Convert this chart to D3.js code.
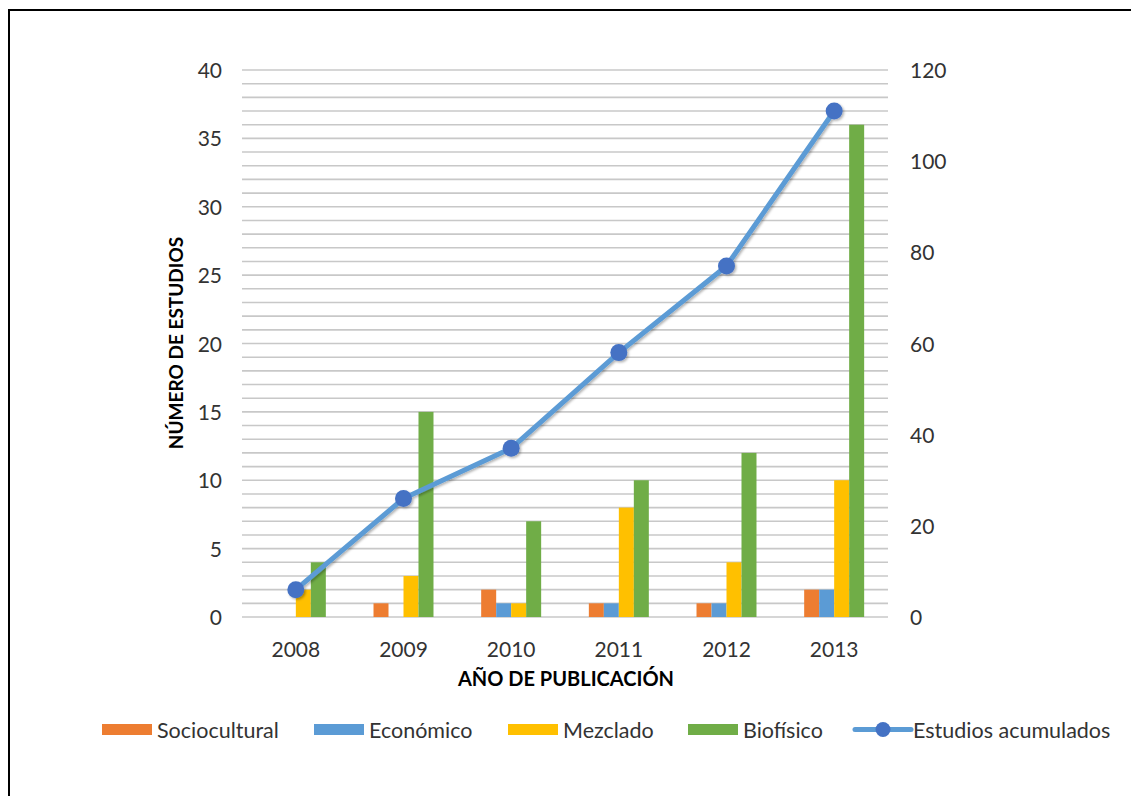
<!DOCTYPE html>
<html><head><meta charset="utf-8">
<script src="https://cdn.jsdelivr.net/npm/d3@7"></script>
<style>body{margin:0;background:#fff}svg{display:block}</style>
</head><body>
<svg id="c" width="1131" height="796"></svg>
<script>
const years = ["2008","2009","2010","2011","2012","2013"];
const seriesNames = ["Sociocultural","Económico","Mezclado","Biofísico"];
const sociocultural = [0,1,2,1,1,2];
const economico = [0,0,1,1,1,2];
const mezclado = [2,3,1,8,4,10];
const biofisico = [4,15,7,10,12,36];
const acumulados = [6,26,37,58,77,111];
const leftTicks = [0,5,10,15,20,25,30,35,40];
const rightTicks = [0,20,40,60,80,100,120];
const colors = ["#ED7D31","#5B9BD5","#FFC000","#70AD47"];
const lineColor = "#5B9BD5", markerColor = "#4472C4";

const seriesValues = [sociocultural, economico, mezclado, biofisico];
const svg = d3.select("#c");
const font = "Lato, 'Open Sans', sans-serif";

const defs = svg.append("defs");
const f = defs.append("filter").attr("id","sh").attr("x","-20%").attr("y","-20%").attr("width","140%").attr("height","140%");
f.append("feDropShadow").attr("dx",1.5).attr("dy",1.5).attr("stdDeviation",1.2).attr("flood-color","#000").attr("flood-opacity",0.3);

// frame
svg.append("rect").attr("x",9).attr("y",10).attr("width",1140).attr("height",800)
  .attr("fill","none").attr("stroke","#000").attr("stroke-width",2);

const x0 = d3.scaleBand().domain(years).range([242,888]).padding(0);
const x1 = d3.scaleBand().domain(seriesNames).range([0,x0.bandwidth()]).paddingInner(0).paddingOuter(1.59);
const yL = d3.scaleLinear().domain([0,40]).range([617,70]);
const yR = d3.scaleLinear().domain([0,120]).range([617,70]);

// gridlines every 1 unit
svg.append("g").selectAll("line").data(d3.range(0,41)).join("line")
  .attr("x1",242).attr("x2",888).attr("y1",d=>yL(d)).attr("y2",d=>yL(d))
  .attr("stroke","#c8c8c8").attr("stroke-width",1.6);

// left axis
const gl = svg.append("g").attr("transform","translate(222,0)")
  .call(d3.axisLeft(yL).tickValues(leftTicks).tickSize(0).tickPadding(0));
gl.select(".domain").remove();
gl.selectAll("text").attr("font-family",font).attr("font-size",21).attr("fill","#333").attr("dy","0.36em").attr("x",0);

const gr = svg.append("g").attr("transform","translate(910,0)")
  .call(d3.axisRight(yR).tickValues(rightTicks).tickSize(0).tickPadding(0));
gr.select(".domain").remove();
gr.selectAll("text").attr("font-family",font).attr("font-size",21).attr("fill","#333").attr("dy","0.36em").attr("x",0);

const gx = svg.append("g").attr("transform","translate(0,649)")
  .call(d3.axisBottom(x0).tickSize(0).tickPadding(0));
gx.select(".domain").remove();
gx.selectAll("text").attr("font-family",font).attr("font-size",21).attr("fill","#333").attr("dy","0.36em").attr("y",0);

// bars
const bars = svg.append("g");
years.forEach((yr,i)=>{
  seriesNames.forEach((s,j)=>{
    const v = seriesValues[j][i];
    if(v>0) bars.append("rect").attr("x",x0(yr)+x1(s)).attr("width",x1.bandwidth())
      .attr("y",yL(v)).attr("height",yL(0)-yL(v)).attr("fill",colors[j]);
  });
});

// line
const cx = d=>x0(d)+x0.bandwidth()/2;
const lg = svg.append("g").attr("filter","url(#sh)");
lg.append("path").datum(years).attr("fill","none").attr("stroke",lineColor).attr("stroke-width",5)
  .attr("stroke-linejoin","round")
  .attr("d",d3.line().x(d=>cx(d)).y((d,i)=>yR(acumulados[i])));
lg.selectAll("circle").data(years).join("circle").attr("cx",d=>cx(d)).attr("cy",(d,i)=>yR(acumulados[i]))
  .attr("r",8.5).attr("fill",markerColor);

// axis titles
svg.append("text").attr("transform","translate(183,343) rotate(-90)").attr("text-anchor","middle")
  .attr("font-family",font).attr("font-weight","bold").attr("font-size",19).attr("fill","#000").text("NÚMERO DE ESTUDIOS");
svg.append("text").attr("x",566).attr("y",686).attr("text-anchor","middle")
  .attr("font-family",font).attr("font-weight","bold").attr("font-size",20).attr("fill","#000").text("AÑO DE PUBLICACIÓN");

// legend
const leg = svg.append("g").attr("font-family",font).attr("font-size",21.5).attr("fill","#333");
const legX = [102,314,508,688];
seriesNames.forEach((s,j)=>{
  leg.append("rect").attr("x",legX[j]).attr("y",724).attr("width",50).attr("height",11).attr("fill",colors[j]);
  leg.append("text").attr("x",legX[j]+55).attr("y",730).attr("dy","0.35em").text(s);
});
leg.append("line").attr("x1",855).attr("x2",911).attr("y1",729.5).attr("y2",729.5)
  .attr("stroke",lineColor).attr("stroke-width",5).attr("stroke-linecap","round");
leg.append("circle").attr("cx",883).attr("cy",729.5).attr("r",7.5).attr("fill",markerColor);
leg.append("text").attr("x",913).attr("y",730).attr("dy","0.35em").text("Estudios acumulados");
</script>
</body></html>
